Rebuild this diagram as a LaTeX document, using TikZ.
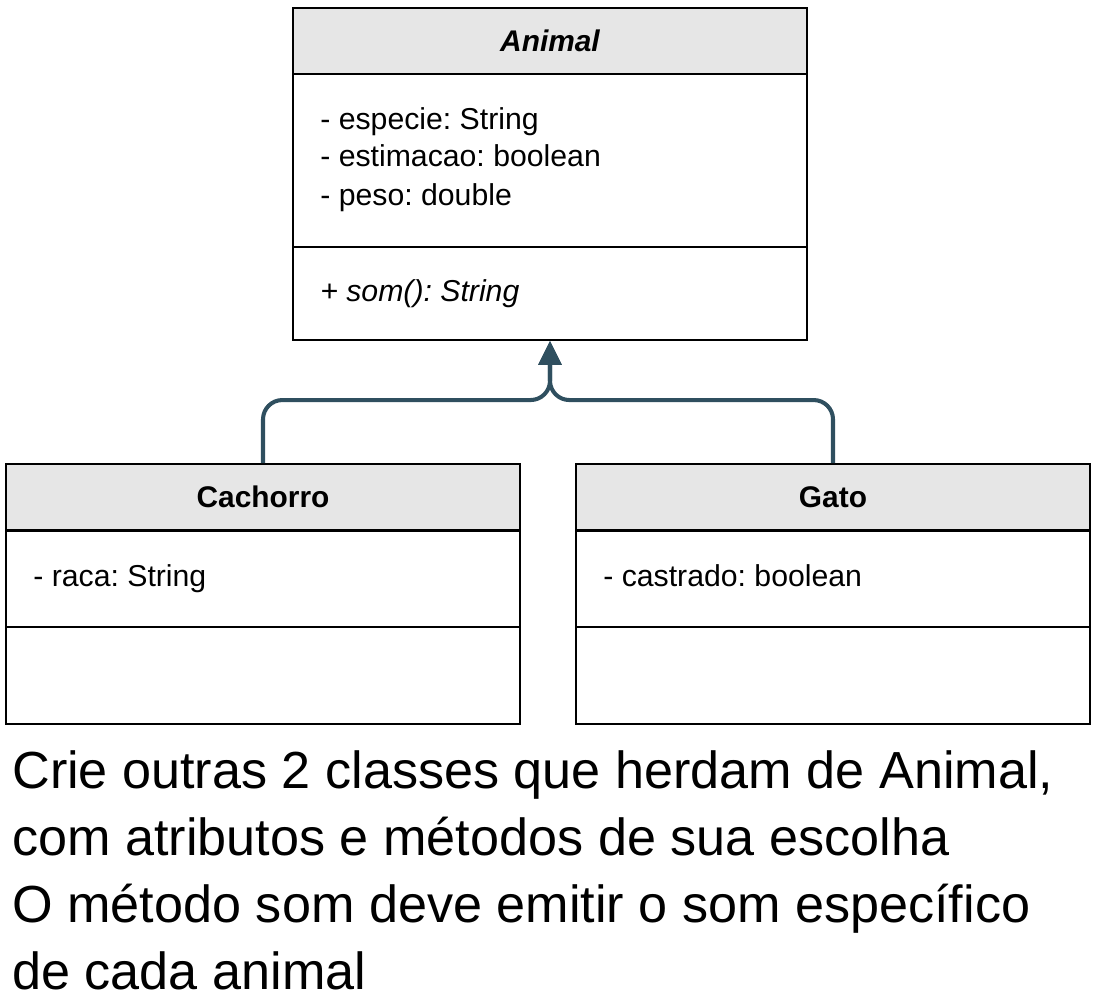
\documentclass[tikz,border=0pt]{standalone}
\usepackage{fontspec}
\setmainfont{Liberation Sans}
\frenchspacing
\usetikzlibrary{arrows.meta}
\definecolor{hdrgray}{HTML}{E6E6E6}
\definecolor{linkcol}{RGB}{47,79,95}
\tikzset{
  comp/.style={draw, line width=1.1pt, minimum width=10.28cm, inner sep=0pt},
  hdr/.style={comp, fill=hdrgray, minimum height=1.32cm, font=\fontsize{17}{21}\selectfont\bfseries},
  attr/.style={anchor=west, inner sep=0pt, text height=0.72em, text depth=0.2em, font=\fontsize{17.2}{21}\selectfont},
  inherit/.style={draw=linkcol, line width=2.3pt, rounded corners=11pt, -{Triangle[length=13.6pt,width=12.8pt]}}
}
\begin{document}
\begin{tikzpicture}[x=0.02cm,y=-0.02cm]
\useasboundingbox (0,0) rectangle (1102,999);
% Animal
\node[hdr] (animal) at (550,41) {\itshape Animal};
\node[comp, minimum height=3.46cm] (animalattr) at (550,160.5) {};
\node[comp, minimum height=1.86cm] (animalops) at (550,293.5) {};
\node[attr] (especie) at (320,125) {- especie: String};
\node[attr] (estimacao) at (320,162) {- estimacao: boolean};
\node[attr] (peso) at (320,201) {- peso: double};
\node[attr] (som) at (320,297) {\itshape + som(): String};
% Cachorro
\node[hdr] (cachorro) at (263,497) {Cachorro};
\node[comp, minimum height=1.92cm] (cachorroattr) at (263,579) {};
\node[comp, minimum height=1.94cm] (cachorroops) at (263,675.5) {};
\node[attr] (raca) at (33,582) {- raca: String};
% Gato
\node[hdr] (gato) at (833,497) {Gato};
\node[comp, minimum height=1.92cm] (gatoattr) at (833,579) {};
\node[comp, minimum height=1.94cm] (gatoops) at (833,675.5) {};
\node[attr] (castrado) at (603,582) {- castrado: boolean};
% heranca
\draw[inherit] (cachorro.north) -- ++(0,-63) -| (animalops.south);
\draw[inherit] (gato.north) -- ++(0,-63) -| (animalops.south);
% enunciado
\node[anchor=base west, inner sep=0pt, align=left, font=\fontsize{29.7}{38}\selectfont] (texto) at (12,989)
  {Crie outras 2 classes que herdam de Animal,\\com atributos e métodos de sua escolha\\O método som deve emitir o som específico\\de cada animal};
\end{tikzpicture}
\end{document}
